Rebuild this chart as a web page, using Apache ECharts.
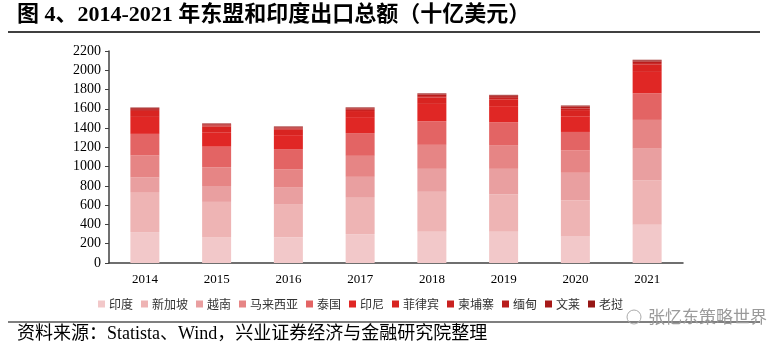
<!DOCTYPE html>
<html>
<head>
<meta charset="utf-8">
<script src="https://cdn.jsdelivr.net/npm/echarts@6/dist/echarts.min.js"></script>
<style>
  html, body { margin: 0; padding: 0; background: #fff; }
  #main { width: 768px; height: 351px; }
</style>
</head>
<body>
<div id="main"></div>
<script>
// 年份
var years = ['2014', '2015', '2016', '2017', '2018', '2019', '2020', '2021'];
var countries = ['印度', '新加坡', '越南', '马来西亚', '泰国', '印尼', '菲律宾', '柬埔寨', '缅甸', '文莱', '老挝'];

// 各国出口额（十亿美元）
var india     = [321, 268, 267, 300, 324, 324, 276, 397];
var singapore = [415, 366, 338, 384, 415, 387, 373, 459];
var vietnam   = [151, 165, 177, 210, 238, 266, 287, 331];
var malaysia  = [228, 195, 188, 218, 249, 241, 231, 298];
var thailand  = [225, 213, 212, 236, 245, 243, 193, 276];
var indonesia = [176, 150, 145, 166, 180, 167, 163, 222];
var philippines = [62, 59, 56, 63, 67, 71, 64, 75];
var cambodia  = [11, 12, 12, 13, 14, 15, 18, 17];
var myanmar   = [11, 11, 12, 14, 17, 18, 17, 15];
var brunei    = [11, 6, 5, 6, 7, 7, 6, 11];
var laos      = [3, 4, 5, 5, 5, 6, 6, 8];

var seriesData = [india, singapore, vietnam, malaysia, thailand, indonesia,
                  philippines, cambodia, myanmar, brunei, laos];
var colors = ['#f2c8c9', '#eeb4b4', '#e99fa0', '#e68585', '#e36464', '#e02725',
              '#d82421', '#c92120', '#b81d1c', '#a71a19', '#961615'];

var serif = '"Liberation Serif", "Noto Sans CJK SC", serif';

var chart = echarts.init(document.getElementById('main'), null, { renderer: 'canvas' });

var series = [];
for (var i = 0; i < countries.length; i++) {
    series.push({
        name: countries[i],
        type: 'bar',
        stack: 'total',
        barWidth: 29,
        itemStyle: { color: colors[i] },
        emphasis: { disabled: true },
        data: seriesData[i]
    });
}

var option = {
    animation: false,
    color: colors,
    grid: {
        left: 109,
        right: 85,
        top: 51,
        bottom: 88
    },
    legend: {
        left: 93,
        top: 293,
        itemWidth: 7,
        itemHeight: 7,
        itemGap: 8,
        icon: 'rect',
        textStyle: {
            fontFamily: '"Noto Sans CJK SC", serif',
            fontSize: 12,
            color: '#333',
            padding: [0, 0, 0, -1]
        },
        data: countries
    },
    xAxis: {
        type: 'category',
        data: years,
        axisTick: { show: false },
        axisLine: { lineStyle: { color: '#404040', width: 1.5 } },
        axisLabel: {
            color: '#000',
            fontFamily: serif,
            fontSize: 13,
            margin: 10
        }
    },
    yAxis: {
        type: 'value',
        min: 0,
        max: 2200,
        interval: 200,
        splitLine: { show: false },
        axisLine: { show: true, lineStyle: { color: '#404040', width: 1.5 } },
        axisTick: { show: true, length: 4, lineStyle: { color: '#404040' } },
        axisLabel: {
            color: '#000',
            fontFamily: serif,
            fontSize: 14,
            margin: 8,
            formatter: function (v) { return String(v); }
        }
    },
    graphic: [
        {
            type: 'text',
            left: 17,
            top: 4,
            style: {
                text: '图 4、2014-2021 年东盟和印度出口总额（十亿美元）',
                font: 'bold 22px "Liberation Serif", "Noto Sans CJK SC", serif',
                fill: '#000'
            }
        },
        {
            type: 'line',
            shape: { x1: 8, y1: 32, x2: 760, y2: 32 },
            style: { stroke: '#000', lineWidth: 1.5 }
        },
        {
            type: 'line',
            shape: { x1: 8, y1: 322, x2: 760, y2: 322 },
            style: { stroke: '#000', lineWidth: 1.2 }
        },
        {
            type: 'text',
            left: 17,
            top: 325,
            style: {
                text: '资料来源：Statista、Wind，兴业证券经济与金融研究院整理',
                font: '18px "Liberation Serif", "Noto Sans CJK SC", serif',
                fill: '#000'
            }
        },
        {
            type: 'text',
            left: 648,
            top: 308,
            style: {
                text: '张忆东策略世界',
                font: '17px "Noto Sans CJK SC", sans-serif',
                fill: '#9a9a9a'
            }
        },
        {
            type: 'circle',
            shape: { cx: 634, cy: 317, r: 7 },
            style: { fill: 'none', stroke: '#aaa', lineWidth: 1 }
        }
    ],
    series: series
};

chart.setOption(option);
</script>
</body>
</html>
